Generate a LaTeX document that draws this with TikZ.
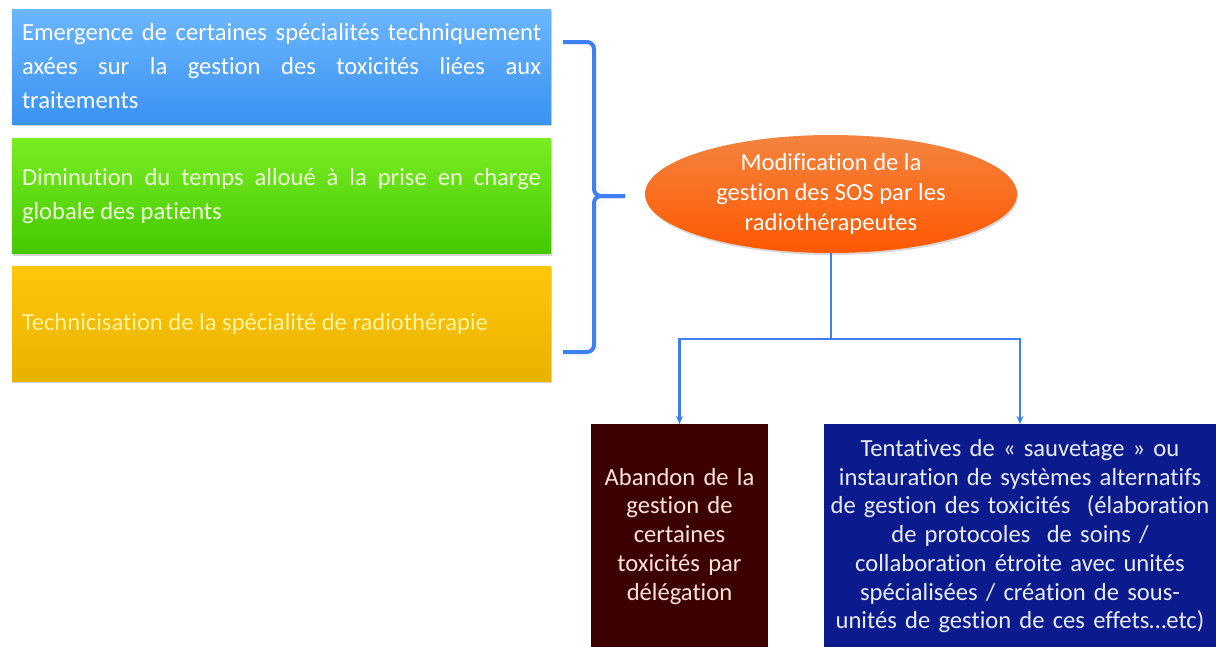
\documentclass[tikz,border=0pt]{standalone}
\usepackage{fontspec}
\setmainfont{Carlito}[Ligatures=NoCommon]
\usetikzlibrary{shadows,arrows.meta,shapes.geometric}
\definecolor{bluetop}{HTML}{6CB6FF}
\definecolor{bluebot}{HTML}{3A92F2}
\definecolor{greentop}{HTML}{7AED24}
\definecolor{greenbot}{HTML}{44C800}
\definecolor{yeltop}{HTML}{FFC70A}
\definecolor{yelbot}{HTML}{E9B200}
\definecolor{yeltext}{HTML}{FFF3A0}
\definecolor{greentext}{HTML}{EEFFD8}
\definecolor{ortop}{HTML}{F4843F}
\definecolor{orbot}{HTML}{FF5800}
\definecolor{brownbox}{HTML}{3D0000}
\definecolor{browntext}{HTML}{FFE4D6}
\definecolor{navybox}{HTML}{0B1A8C}
\definecolor{navytext}{HTML}{E8ECFF}
\definecolor{linkblue}{HTML}{3D7FF5}
\tikzset{
  causebox/.style={rectangle, minimum width=539pt, minimum height=115pt,
    text width=519pt, inner xsep=10pt, align=justify,
    font=\fontsize{24.6}{34}\selectfont,
    drop shadow={shadow xshift=1pt, shadow yshift=-2pt, opacity=0.35}},
  effectbox/.style={rectangle, anchor=north, inner sep=0pt, minimum height=224pt,
    font=\fontsize{24.6}{28.7}\selectfont, align=center},
  link/.style={draw=linkblue, line width=2.5pt},
  arrowlink/.style={link, -{Stealth[length=8pt,width=7pt]}},
}
\begin{document}
\begin{tikzpicture}[x=1pt,y=-1pt]
\useasboundingbox (0,0) rectangle (1216,646);
% left cause boxes
\node[causebox, top color=bluetop, bottom color=bluebot, text=white] (b1) at (281.5,66.5)
  {Emergence de certaines spécialités techniquement\linebreak axées sur la gestion des toxicités liées aux\linebreak traitements};
\node[causebox, top color=greentop, bottom color=greenbot, text=greentext] (b2) at (281.5,196)
  {Diminution du temps alloué à la prise en charge\linebreak globale des patients};
\node[causebox, top color=yeltop, bottom color=yelbot, text=yeltext] (b3) at (281.5,323.5)
  {Technicisation de la spécialité de radiothérapie};
% brace
\coordinate (brtop) at (563,42);
\coordinate (brbot) at (563,352);
\coordinate (brtip) at (625,196);
\draw[draw=linkblue, line width=4pt, rounded corners=7pt]
  (brtop) -- (594,42) -- (594,196) -- (brtip);
\draw[draw=linkblue, line width=4pt, rounded corners=7pt]
  (brbot) -- (594,352) -- (594,196) -- (brtip);
% ellipse
\node[ellipse, minimum width=372pt, minimum height=118pt, inner sep=0pt,
  top color=ortop, bottom color=orbot, text=white, align=center,
  font=\fontsize{24.6}{30}\selectfont,
  drop shadow={shadow xshift=1pt, shadow yshift=-2pt, opacity=0.3}] (mod) at (831,194)
  {Modification de la\\gestion des SOS par les\\radiothérapeutes};
% bottom boxes
\node[effectbox, fill=brownbox, text=browntext, minimum width=177pt,
  text width=177pt] (aband) at (679.5,424)
  {Abandon de la\\gestion de\\certaines\\toxicités par\\délégation};
\node[effectbox, fill=navybox, text=navytext, minimum width=392pt,
  text width=392pt] (tent) at (1020,424)
  {Tentatives de « sauvetage » ou\\instauration de systèmes alternatifs\\de gestion des toxicités~ (élaboration\\de protocoles~ de soins /\\collaboration étroite avec unités\\spécialisées / création de sous-\\unités de gestion de ces effets…etc)};
% connectors
\coordinate (junc) at (831,339);
\draw[link] (mod.south) -- (junc);
\draw[arrowlink] (junc) -| (aband.north);
\draw[arrowlink] (junc) -| (tent.north);
\end{tikzpicture}
\end{document}
